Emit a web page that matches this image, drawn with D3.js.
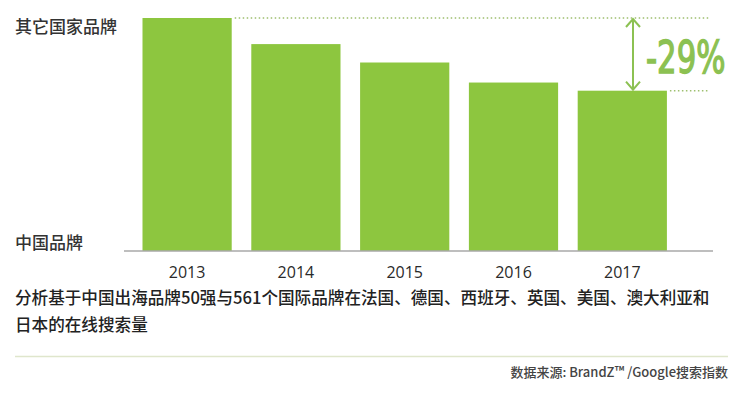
<!DOCTYPE html>
<html>
<head>
<meta charset="utf-8">
<script src="https://cdn.jsdelivr.net/npm/d3@7"></script>
<style>
  body { margin: 0; background: #fff; }
  svg { display: block; font-family: "Open Sans", "Noto Sans CJK SC", sans-serif; }
</style>
</head>
<body>
<div id="chart"></div>
<script>
// values (2013 = 100)
const years = ['2013', '2014', '2015', '2016', '2017'];
const searchIndex = [100, 88.8, 80.9, 72.3, 68.8];
const changeLabel = '-29%';
const topLabel = '其它国家品牌';
const bottomLabel = '中国品牌';
const noteLines = ['分析基于中国出海品牌50强与561个国际品牌在法国、德国、西班牙、英国、美国、澳大利亚和', '日本的在线搜索量'];
const sourceText = '数据来源: BrandZ™ /Google搜索指数';

const data = years.map((y, i) => ({ year: y, value: searchIndex[i] }));

const width = 751, height = 397;
const green = '#8dc63f';
const cjk = '"Noto Sans CJK SC", sans-serif';

const svg = d3.select('#chart')
    .append('svg')
    .attr('width', width)
    .attr('height', height);

const xScale = d3.scaleBand()
    .domain(years)
    .range([132.7, 676.7])
    .paddingInner(0.18)
    .paddingOuter(0.09);

const yScale = d3.scaleLinear()
    .domain([0, 100])
    .range([251, 18]);

svg.selectAll('.bar')
    .data(data)
    .enter()
    .append('rect')
    .attr('class', 'bar')
    .attr('x', d => xScale(d.year))
    .attr('y', d => yScale(d.value))
    .attr('width', xScale.bandwidth())
    .attr('height', d => yScale(0) - yScale(d.value))
    .style('fill', green);

// baseline
svg.append('line')
    .attr('x1', 124).attr('x2', 713)
    .attr('y1', yScale(0)).attr('y2', yScale(0))
    .style('stroke', '#a9a9a9')
    .style('stroke-width', 1.5);

const xAxis = svg.append('g')
    .attr('class', 'x-axis')
    .attr('transform', `translate(0,${yScale(0)})`)
    .call(d3.axisBottom(xScale).tickSize(0).tickPadding(15.5));
xAxis.select('.domain').remove();
xAxis.selectAll('text')
    .style('font-family', '"Open Sans", sans-serif')
    .style('font-size', '16px')
    .style('fill', '#2a2a2a');

// side labels
svg.append('text')
    .attr('x', 15).attr('y', 33)
    .text(topLabel)
    .style('font-family', cjk)
    .style('font-size', '17px')
    .style('font-weight', 500)
    .style('fill', '#333');

svg.append('text')
    .attr('x', 15).attr('y', 249)
    .text(bottomLabel)
    .style('font-family', cjk)
    .style('font-size', '17px')
    .style('font-weight', 500)
    .style('fill', '#333');

// dotted guides
const first = data[0], last = data[data.length - 1];
const guideEnd = 709;
svg.append('line')
    .attr('x1', xScale(first.year) + xScale.bandwidth() + 3).attr('x2', guideEnd)
    .attr('y1', yScale(first.value)).attr('y2', yScale(first.value))
    .style('stroke', '#9dbf6e')
    .style('stroke-width', 1.5)
    .style('stroke-dasharray', '1.5,2.5');

svg.append('line')
    .attr('x1', xScale(last.year) + xScale.bandwidth() + 3).attr('x2', guideEnd)
    .attr('y1', yScale(last.value)).attr('y2', yScale(last.value))
    .style('stroke', '#9dbf6e')
    .style('stroke-width', 1.5)
    .style('stroke-dasharray', '1.5,2.5');

// double arrow
const ax = xScale(last.year) + xScale.bandwidth() * 0.62;
const aTop = yScale(first.value) + 1, aBot = yScale(last.value) - 1;
const arrowColor = '#8cc152';
svg.append('line')
    .attr('x1', ax).attr('x2', ax)
    .attr('y1', aTop).attr('y2', aBot)
    .style('stroke', arrowColor)
    .style('stroke-width', 2);
svg.append('path')
    .attr('d', `M${ax - 7},${aTop + 8}L${ax},${aTop}L${ax + 7},${aTop + 8}`)
    .style('fill', 'none')
    .style('stroke', arrowColor)
    .style('stroke-width', 2);
svg.append('path')
    .attr('d', `M${ax - 7},${aBot - 8}L${ax},${aBot}L${ax + 7},${aBot - 8}`)
    .style('fill', 'none')
    .style('stroke', arrowColor)
    .style('stroke-width', 2);

// condensed look: squeeze horizontally
svg.append('text')
    .attr('transform', 'translate(646,73) scale(0.76,1)')
    .text(changeLabel)
    .style('font-family', '"DejaVu Sans Condensed", "DejaVu Sans", sans-serif')
    .style('font-size', '45px')
    .style('fill', arrowColor)
    .style('stroke', arrowColor)
    .style('stroke-width', 1.4);

// note
svg.selectAll('.note')
    .data(noteLines)
    .enter()
    .append('text')
    .attr('class', 'note')
    .attr('x', 15)
    .attr('y', (d, i) => 304 + i * 27)
    .text(d => d)
    .style('font-family', cjk)
    .style('font-size', '16.6px')
    .style('font-weight', 500)
    .style('fill', '#222');

svg.append('line')
    .attr('x1', 15).attr('x2', 728)
    .attr('y1', 356.5).attr('y2', 356.5)
    .style('stroke', '#dfe6cc')
    .style('stroke-width', 1.5);

svg.append('text')
    .attr('x', 728).attr('y', 377)
    .attr('text-anchor', 'end')
    .text(sourceText)
    .style('font-family', cjk)
    .style('font-size', '13px')
    .style('font-weight', 500)
    .style('fill', '#444');
</script>
</body>
</html>
